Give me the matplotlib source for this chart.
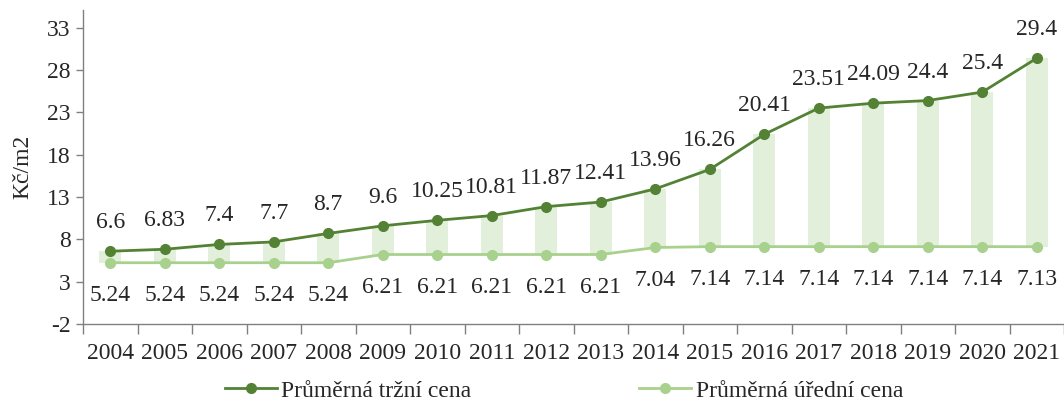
import matplotlib
matplotlib.use("Agg")
import matplotlib.pyplot as plt
import numpy as np

years = ["2004", "2005", "2006", "2007", "2008", "2009", "2010", "2011", "2012",
         "2013", "2014", "2015", "2016", "2017", "2018", "2019", "2020", "2021"]
market = [6.6, 6.83, 7.4, 7.7, 8.7, 9.6, 10.25, 10.81, 11.87, 12.41, 13.96,
          16.26, 20.41, 23.51, 24.09, 24.4, 25.4, 29.4]
official = [5.24, 5.24, 5.24, 5.24, 5.24, 6.21, 6.21, 6.21, 6.21, 6.21, 7.04,
            7.14, 7.14, 7.14, 7.14, 7.14, 7.14, 7.13]
yticks = [-2, 3, 8, 13, 18, 23, 28, 33]
label_market = "Průměrná tržní cena"
label_official = "Průměrná úřední cena"
ylabel = "Kč/m2"

plt.rcParams['font.family'] = ['Liberation Serif', 'DejaVu Serif']
text_color = "#262626"
dark = "#548235"
light = "#A9D18E"
barc = "#E2EFDA"

fig = plt.figure(figsize=(10.64, 4.03), dpi=100)
ax = fig.add_axes([83/1064, 79/403, 981/1064, 314/403])
x = np.arange(len(years))

hi = np.array(market)
lo = np.array(official)
ax.bar(x, hi - lo, bottom=lo, width=0.4, color=barc, zorder=1)
ln1, = ax.plot(x, market, color=dark, lw=2, marker='o', ms=7, zorder=3, label=label_market)
ln2, = ax.plot(x, official, color=light, lw=2, marker='o', ms=7, zorder=2, label=label_official)

fs = 17
for xi, v in zip(x, market):
    ax.annotate(f"{v:g}", (xi, v), xytext=(0, 13), textcoords='offset points',
                ha='center', va='bottom', fontsize=fs, color=text_color)
for xi, v in zip(x, official):
    ax.annotate(f"{v:g}", (xi, v), xytext=(0, -16), textcoords='offset points',
                ha='center', va='top', fontsize=fs, color=text_color)

ax.set_ylim(-2, 35.1)
ax.set_xlim(-0.5, 17.43)
ax.set_yticks(yticks)
ax.set_yticklabels([str(t) for t in yticks], fontsize=fs, color=text_color)
ax.set_xticks(x)
ax.set_xticklabels(years, fontsize=fs, color=text_color)
ax.tick_params(axis='x', which='major', length=0, pad=14)
ax.set_xticks(np.arange(-0.5, 18, 1), minor=True)
ax.tick_params(axis='x', which='minor', length=7, color='#808080', width=1)
ax.tick_params(axis='y', length=5, color='#808080', width=1, pad=4)
for s in ['top', 'right']:
    ax.spines[s].set_visible(False)
for s in ['left', 'bottom']:
    ax.spines[s].set_color('#808080')
    ax.spines[s].set_linewidth(1)
ax.set_ylabel(ylabel, fontsize=fs, color=text_color, labelpad=10)

fig.legend(handles=[ln1, ln2], loc='center', bbox_to_anchor=(0.530, 0.03),
           ncol=2, frameon=False, fontsize=17, handlelength=2.2,
           columnspacing=7.1, handletextpad=0.2, labelcolor=text_color)

fig.savefig("out.png", dpi=100)
